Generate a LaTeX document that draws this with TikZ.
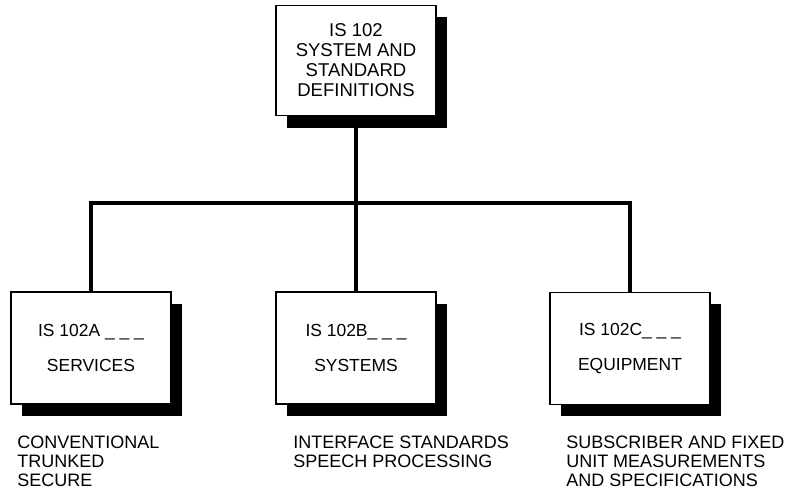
\documentclass[tikz,border=0pt]{standalone}
\usepackage{fontspec}
\setmainfont{Liberation Sans}
\usepackage{tikz}
\usetikzlibrary{positioning, calc, shadows}

\begin{document}
\begin{tikzpicture}[
    x=0.75pt, y=-0.75pt,
    every node/.style={align=center, inner sep=0pt},
    isbox/.style={draw, fill=white, line width=0.9pt,
        minimum width=120pt, minimum height=84pt,
        general shadow={fill=black, shadow xshift=8pt, shadow yshift=-8.8pt}},
    bus/.style={line width=3.4pt, line join=miter},
    caption/.style={anchor=north west, align=left,
        font=\fontsize{13.5pt}{14.2pt}\selectfont}
]
    \useasboundingbox (0,0) rectangle (794,492);

    % Top box
    \node[isbox, minimum height=83pt, font=\fontsize{13.9pt}{15pt}\selectfont] (top) at (356,60.5) {
        IS 102\\
        SYSTEM AND\\
        STANDARD\\
        DEFINITIONS
    };

    % Volumes
    \node[isbox, font=\fontsize{13.1pt}{26.25pt}\selectfont] (partA) at (91,348) {
        IS 102A \_ \_ \_\\
        SERVICES
    };
    \node[isbox, font=\fontsize{13.1pt}{26.25pt}\selectfont] (partB) at (356,348) {
        IS 102B\_ \_ \_\\
        SYSTEMS
    };
    \node[isbox, font=\fontsize{13.1pt}{26.25pt}\selectfont] (partC) at (630,348.5) {
        IS 102C\_ \_ \_\\
        EQUIPMENT
    };

    % Contents
    \node[caption] (capA) at (17,436) {CONVENTIONAL\\TRUNKED\\SECURE};
    \node[caption] (capB) at (293,436) {INTERFACE STANDARDS\\SPEECH PROCESSING};
    \node[caption] (capC) at (566,436) {SUBSCRIBER AND FIXED\\UNIT MEASUREMENTS\\AND SPECIFICATIONS};

    % Tree lines
    \coordinate (busmid) at (356,203);
    \draw[bus] (top.south) -- (busmid);
    \draw[bus] (partA.north) -- (partA.north |- busmid) -| (partC.north);
    \draw[bus] (busmid) -- (partB.north);
\end{tikzpicture}
\end{document}
